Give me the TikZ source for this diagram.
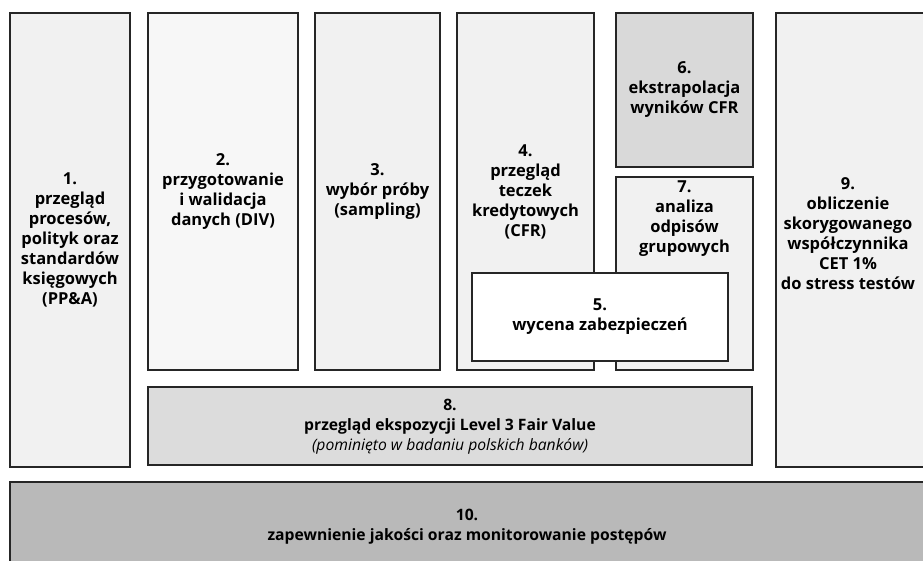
\documentclass[tikz,border=0pt]{standalone}
\usepackage{fontspec}
\setmainfont{Open Sans}
\usetikzlibrary{shadows}
\definecolor{Frame}{HTML}{262626}
\definecolor{PaleGrey}{HTML}{F1F1F1}
\definecolor{Paper}{HTML}{F7F7F7}
\definecolor{MidGrey}{HTML}{D9D9D9}
\definecolor{BarGrey}{HTML}{DCDCDC}
\definecolor{DeepGrey}{HTML}{B9B9B9}

\begin{document}
\begin{tikzpicture}[x=1pt,y=-1pt,
          font=\fontsize{16.5}{20}\selectfont\bfseries,
          panel/.style={draw=Frame,line width=2.2pt,align=center,
            inner sep=2pt,
            drop shadow={shadow xshift=1.4pt,shadow yshift=-1.4pt,
              opacity=0.5,fill=black}},
          caption/.style={align=center,inner sep=1pt},
          barcaption/.style={caption,
            font=\fontsize{15.7}{20}\selectfont\bfseries}]
        \useasboundingbox (0,0) rectangle (923,561);
        \clip (0,0) rectangle (923,561);

        % tall columns
        \node[panel,fill=PaleGrey,minimum width=120,minimum height=454]
          (survey) at (70,240)
          {1.\\przegląd\\procesów,\\polityk oraz\\standardów\\księgowych\\(PP\&A)};
        \node[panel,fill=Paper,minimum width=150,minimum height=357]
          (data) at (223,191.5)
          {2.\\przygotowanie\\i walidacja\\danych (DIV)};
        \node[panel,fill=PaleGrey,minimum width=125,minimum height=357]
          (sample) at (377.5,191.5)
          {3.\\wybór próby\\(sampling)};
        \node[panel,fill=PaleGrey,minimum width=137,minimum height=357]
          (files) at (525.5,191.5)
          {4.\\przegląd\\teczek\\kredytowych\\(CFR)};
        \node[panel,fill=MidGrey,minimum width=137,minimum height=154]
          (extra) at (684.5,90)
          {6.\\ekstrapolacja\\wyników CFR};
        \node[panel,fill=PaleGrey,minimum width=137,minimum height=193]
          (group) at (684.5,273.5) {};
        \node[caption] (grouptxt) at (684.5,219)
          {7.\\analiza\\odpisów\\grupowych};
        \node[panel,fill=white,minimum width=256,minimum height=88]
          (collat) at (600,317)
          {5.\\wycena zabezpieczeń};
        \node[panel,fill=PaleGrey,minimum width=160,minimum height=454]
          (cet) at (856,240) {};
        \node[caption] (cettxt) at (848,234)
          {9.\\obliczenie\\skorygowanego\\współczynnika\\CET 1\%\\do stress testów};

        % horizontal bars
        \node[panel,fill=BarGrey,minimum width=604,minimum height=78]
          (fairval) at (450,426) {};
        \node[barcaption] (fairtxt) at (450,427)
          {8.\\przegląd ekspozycji Level 3 Fair Value\\
           {\mdseries\itshape (pominięto w badaniu polskich banków)}};
        \node[panel,fill=DeepGrey,minimum width=930,minimum height=100]
          (quality) at (475,532) {};
        \node[barcaption] (qualtxt) at (467,527)
          {10.\\zapewnienie jakości oraz monitorowanie postępów};
      \end{tikzpicture}
\end{document}
